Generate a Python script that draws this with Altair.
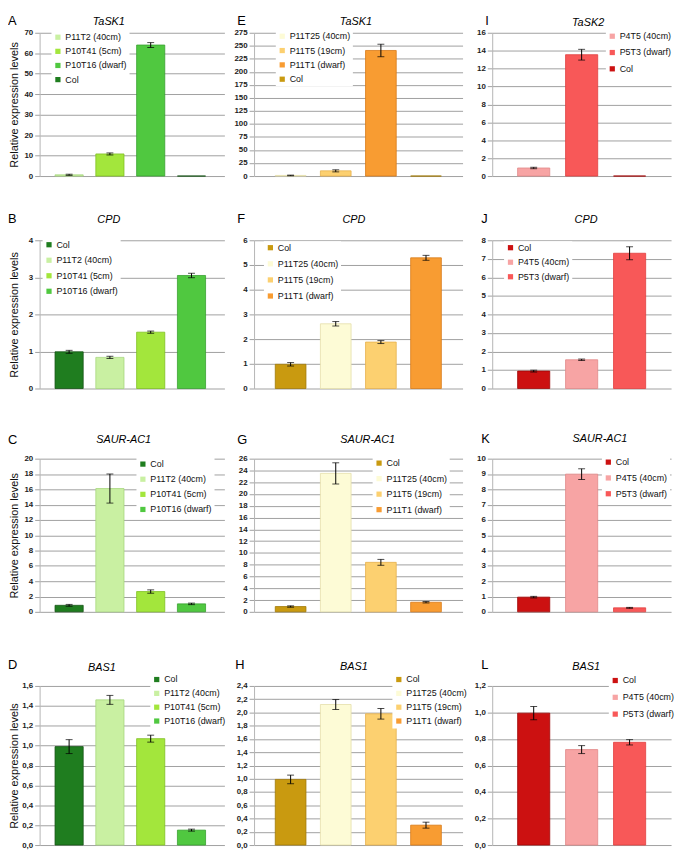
import altair as alt
import pandas as pd

FONT = "Liberation Sans"

# ---------------- data ----------------
green_lines = ["Col", "P11T2 (40cm)", "P10T41 (5cm)", "P10T16 (dwarf)"]
green_lines_A = ["P11T2 (40cm)", "P10T41 (5cm)", "P10T16 (dwarf)", "Col"]
orange_lines = ["Col", "P11T25 (40cm)", "P11T5 (19cm)", "P11T1 (dwarf)"]
orange_lines_E = ["P11T25 (40cm)", "P11T5 (19cm)", "P11T1 (dwarf)", "Col"]
red_lines = ["Col", "P4T5 (40cm)", "P5T3 (dwarf)"]
red_lines_I = ["P4T5 (40cm)", "P5T3 (dwarf)", "Col"]

A_vals = [0.6, 10.8, 64.0, 0.0]
A_errs = [0.3, 0.5, 1.2, 0.0]
E_vals = [1.2, 10.0, 241.0, 0.0]
E_errs = [0.6, 2.0, 12.0, 0.0]
I_vals = [0.9, 13.55, 0.0]
I_errs = [0.08, 0.6, 0.0]

B_vals = [0.99, 0.84, 1.52, 3.05]
B_errs = [0.04, 0.03, 0.03, 0.06]
F_vals = [0.98, 2.62, 1.88, 5.29]
F_errs = [0.07, 0.09, 0.06, 0.10]
J_vals = [0.94, 1.55, 7.30]
J_errs = [0.05, 0.04, 0.35]

C_vals = [0.85, 16.1, 2.65, 1.04]
C_errs = [0.12, 1.9, 0.22, 0.10]
G_vals = [0.90, 23.5, 8.4, 1.63]
G_errs = [0.12, 1.8, 0.5, 0.12]
K_vals = [0.96, 8.99, 0.26]
K_errs = [0.05, 0.35, 0.03]

D_vals = [0.99, 1.46, 1.07, 0.15]
D_errs = [0.07, 0.045, 0.035, 0.01]
H_vals = [0.99, 2.12, 1.98, 0.30]
H_errs = [0.065, 0.075, 0.08, 0.045]
L_vals = [0.995, 0.72, 0.775]
L_errs = [0.05, 0.03, 0.02]

ticks_A = [0, 10, 20, 30, 40, 50, 60, 70]
ticks_E = [0, 25, 50, 75, 100, 125, 150, 175, 200, 225, 250, 275]
ticks_I = [0, 2, 4, 6, 8, 10, 12, 14, 16]
ticks_B = [0, 1, 2, 3, 4]
ticks_F = [0, 1, 2, 3, 4, 5, 6]
ticks_J = [0, 1, 2, 3, 4, 5, 6, 7, 8]
ticks_C = [0, 2, 4, 6, 8, 10, 12, 14, 16, 18, 20]
ticks_G = [0, 2, 4, 6, 8, 10, 12, 14, 16, 18, 20, 22, 24, 26]
ticks_K = [0, 1, 2, 3, 4, 5, 6, 7, 8, 9, 10]
ticks_D = [0, 0.2, 0.4, 0.6, 0.8, 1.0, 1.2, 1.4, 1.6]
ticks_H = [0, 0.2, 0.4, 0.6, 0.8, 1.0, 1.2, 1.4, 1.6, 1.8, 2.0, 2.2, 2.4]
ticks_L = [0, 0.2, 0.4, 0.6, 0.8, 1.0, 1.2]

# ---------------- styles ----------------
FILL = {
    "Col_g": "#1f7d1f", "P11T2 (40cm)": "#c9f0a2", "P10T41 (5cm)": "#a3e63c", "P10T16 (dwarf)": "#50c840",
    "Col_o": "#c99a10", "P11T25 (40cm)": "#fdfbd6", "P11T5 (19cm)": "#fcd070", "P11T1 (dwarf)": "#f89c32",
    "Col_r": "#cc1111", "P4T5 (40cm)": "#f7a4a4", "P5T3 (dwarf)": "#f85858",
}
STROKE = {
    "Col_g": "#145214", "P11T2 (40cm)": "#a6d67e", "P10T41 (5cm)": "#7fc020", "P10T16 (dwarf)": "#38a030",
    "Col_o": "#a07808", "P11T25 (40cm)": "#e4deaa", "P11T5 (19cm)": "#e6b04e", "P11T1 (dwarf)": "#d87a18",
    "Col_r": "#a00808", "P4T5 (40cm)": "#e08888", "P5T3 (dwarf)": "#e04040",
}

COLW = [187, 211, 181]
ROWH = [187, 220, 230, 205]
YRANGE = [[165, 20], [193, 43], [199, 44], [205, 44]]
BAND = [dict(paddingInner=0.31, paddingOuter=0.42, align=0.45),
        dict(paddingInner=0.32, paddingOuter=0.47, align=0.5),
        dict(paddingInner=0.33, paddingOuter=0.53, align=0.5)]


def key(c, fam):
    return c + "_" + fam if c == "Col" else c


def panel(letter, gene, cats, fam, vals, errs, ticks, col, row,
          letter_pos, title_pos, legend_pos, rowpad, ytitle=None, comma=False):
    df = pd.DataFrame({"cat": cats, "val": vals, "err": errs})
    df["lo"] = df["val"] - df["err"]
    df["hi"] = df["val"] + df["err"]
    fills = [FILL[key(c, fam)] for c in cats]
    strokes = [STROKE[key(c, fam)] for c in cats]
    yscale = alt.Scale(domain=[0, ticks[-1]], nice=False, zero=True, range=YRANGE[row])
    xenc = alt.X("cat:N", sort=cats, axis=None,
                 scale=alt.Scale(domain=cats, **BAND[col]))
    axis_kw = dict(values=ticks, tickCount=len(ticks), labelOverlap=False,
                   grid=True, gridColor="#a0a0a0", gridWidth=1,
                   domainColor="#b5b5b5", tickColor="#a0a0a0", tickSize=5,
                   labelPadding=2, labelFontSize=8, labelFontWeight="bold",
                   labelColor="#222222")
    if comma:
        axis_kw["labelExpr"] = "replace(format(datum.value, '.1f'), '.', ',')"
    if ytitle:
        axis_kw.update(title=ytitle, titleX=-20, titleFontSize=11,
                       titleFontWeight="normal", titleColor="#111111")
    else:
        axis_kw["title"] = None
    bars = alt.Chart(df).mark_bar(strokeWidth=0.8).encode(
        x=xenc,
        y=alt.Y("val:Q", scale=yscale, axis=alt.Axis(**axis_kw), stack=None),
        color=alt.Color("cat:N", sort=cats,
                        scale=alt.Scale(domain=cats, range=fills),
                        legend=alt.Legend(orient="none", legendX=legend_pos[0],
                                          legendY=legend_pos[1], title=None,
                                          direction="vertical",
                                          symbolType="square", symbolSize=28,
                                          symbolStrokeWidth=0, labelFontSize=9,
                                          labelOffset=3, rowPadding=rowpad,
                                          fillColor="white", padding=2,
                                          labelColor="#111111")),
        stroke=alt.Stroke("cat:N", sort=cats,
                          scale=alt.Scale(domain=cats, range=strokes), legend=None),
    )
    edf = df[df["err"] > 0]
    rule = alt.Chart(edf).mark_rule(color="black", strokeWidth=1).encode(
        x=xenc, y=alt.Y("lo:Q", scale=yscale), y2="hi:Q")
    caps_lo = alt.Chart(edf).mark_tick(color="black", thickness=1, size=7).encode(
        x=xenc, y=alt.Y("lo:Q", scale=yscale))
    caps_hi = alt.Chart(edf).mark_tick(color="black", thickness=1, size=7).encode(
        x=xenc, y=alt.Y("hi:Q", scale=yscale))
    one = alt.InlineData(values=[{"k": 1}])
    lt = alt.Chart(one).mark_text(text=letter, fontSize=13, align="left",
                                  baseline="middle", color="#000000").encode(
        x=alt.value(letter_pos[0]), y=alt.value(letter_pos[1]))
    gt = alt.Chart(one).mark_text(text=gene, fontSize=11, fontStyle="italic",
                                  align="center", baseline="middle",
                                  color="#000000").encode(
        x=alt.value(title_pos[0]), y=alt.value(title_pos[1]))
    return alt.layer(bars, rule, caps_lo, caps_hi, lt, gt).properties(
        width=COLW[col], height=ROWH[row])


panels = [
    panel("A", "TaSK1", green_lines_A, "g", A_vals, A_errs, ticks_A, 0, 0,
          (-32, 8), (70, 9), (12, 18), 4.3, ytitle="Relative expression levels"),
    panel("E", "TaSK1", orange_lines_E, "o", E_vals, E_errs, ticks_E, 1, 0,
          (-17, 8), (103, 9), (22, 17), 4.5),
    panel("I", "TaSK2", red_lines_I, "r", I_vals, I_errs, ticks_I, 2, 0,
          (-7, 8), (97, 10), (115, 17), 6.5),
    panel("B", "CPD", green_lines, "g", B_vals, B_errs, ticks_B, 0, 1,
          (-32, 22), (70, 23), (3, 41), 5.7, ytitle="Relative expression  levels"),
    panel("F", "CPD", orange_lines, "o", F_vals, F_errs, ticks_F, 1, 1,
          (-17, 22), (101, 23), (10, 44), 6.3),
    panel("J", "CPD", red_lines, "r", J_vals, J_errs, ticks_J, 2, 1,
          (-11, 22), (95, 23), (12, 44), 4.7),
    panel("C", "SAUR-AC1", green_lines, "g", C_vals, C_errs, ticks_C, 0, 2,
          (-32, 25), (85, 25), (98, 43), 5.3, ytitle="Relative expression  levels"),
    panel("G", "SAUR-AC1", orange_lines, "o", G_vals, G_errs, ticks_G, 1, 2,
          (-17, 25), (115, 25), (120, 42), 5.7),
    panel("K", "SAUR-AC1", red_lines, "r", K_vals, K_errs, ticks_K, 2, 2,
          (-11, 24), (109, 24), (111, 41), 6.0),
    panel("D", "BAS1", green_lines, "g", D_vals, D_errs, ticks_D, 0, 3,
          (-32, 23), (63, 26), (112, 31), 4.0, ytitle="Relative expression  levels", comma=True),
    panel("H", "BAS1", orange_lines, "o", H_vals, H_errs, ticks_H, 1, 3,
          (-19, 23), (101, 25), (140, 31), 4.0, comma=True),
    panel("L", "BAS1", red_lines, "r", L_vals, L_errs, ticks_L, 2, 3,
          (-11, 23), (95, 25), (118, 32), 7.0, comma=True),
]

chart = alt.concat(*panels, columns=3, spacing=alt.RowColnumber(row=0, column=30),
                   bounds="flush", align="each").resolve_scale(
    x="independent", y="independent", color="independent", stroke="independent"
).resolve_legend(color="independent", stroke="independent").properties(
    padding=0
).configure_view(stroke=None).configure_axis(
    labelFont=FONT, titleFont=FONT
).configure_legend(labelFont=FONT).configure_text(font=FONT)

chart.save("out.html", embed_options={"renderer": "svg", "actions": False})
